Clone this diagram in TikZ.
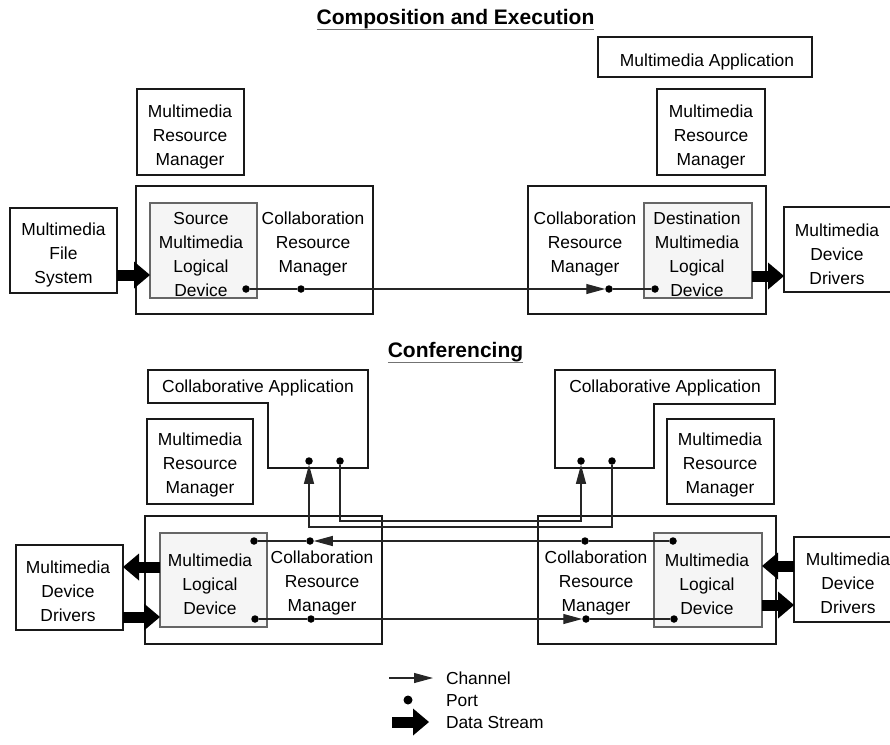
\documentclass[tikz,border=0pt]{standalone}
\usepackage{fontspec}
\setmainfont{Liberation Sans}
\usetikzlibrary{arrows.meta,fit}

\begin{document}
\begin{tikzpicture}[x=1pt,y=-1pt,
  every node/.style={inner sep=0pt, outer sep=0pt},
  txt/.style={align=center, font=\fontsize{17.4}{24}\selectfont},
  lgtxt/.style={anchor=base west, font=\fontsize{17.4}{24}\selectfont},
  heading/.style={anchor=base, font=\fontsize{21}{25}\selectfont\bfseries},
  uline/.style={draw=black!55, line width=1.6pt},
  boxline/.style={draw=black!90, line width=1.4pt},
  box/.style={boxline, fit={#1}},
  devbox/.style={draw=black!60, fill=black!4, line width=1.3pt, fit={#1}},
  port/.style={circle, fill=black, minimum size=7.5pt},
  link/.style={draw=black!85, line width=1.1pt},
  chan/.style={link, -{Triangle[length=19pt,width=10pt]}},
  stream/.style={draw=black, line width=11pt,
    -{Triangle[length=16pt,width=27pt,line width=0pt]}},
]
\useasboundingbox (0,0) rectangle (890,744);

% ---------------- Composition and Execution ----------------
\node[heading] (head1) at (455.5,24) {Composition and Execution};
\draw[uline] ([yshift=-5.5pt]head1.base west) -- ([yshift=-5.5pt]head1.base east);

\node[box={(598,37) (812,77)}] (mapp) {};
\node[txt] (mappT) at (707,62.5) {Multimedia Application};

\node[box={(137,89) (244,175)}] (mrm1) {};
\node[txt] (mrm1T) at (190,137) {Multimedia\\Resource\\Manager};
\node[box={(657,89) (765,175)}] (mrm2) {};
\node[txt] (mrm2T) at (711,137) {Multimedia\\Resource\\Manager};

\node[box={(10,208) (117,293)}] (fs) {};
\node[txt] (fsT) at (63.5,254.5) {Multimedia\\File\\System};

\node[box={(136,186) (373,314)}] (host1) {};
\node[devbox={(150,203) (257,298)}] (sld) {};
\node[txt] (sldT) at (201,255) {Source\\Multimedia\\Logical\\Device};
\node[txt] (crm1T) at (313,243.5) {Collaboration\\Resource\\Manager};

\node[box={(528,186) (766,314)}] (host2) {};
\node[txt] (crm2T) at (585,243.5) {Collaboration\\Resource\\Manager};
\node[devbox={(644,203) (752,298)}] (dld) {};
\node[txt] (dldT) at (697,254.5) {Destination\\Multimedia\\Logical\\Device};

\node[box={(784,207) (894,292)}] (ddr) {};
\node[txt] (ddrT) at (837,254) {Multimedia\\Device\\Drivers};

% ports and channel
\node[port] (pSrc) at (246,289) {};
\node[port] (pCL) at (301,289) {};
\node[port] (pCR) at (609,289) {};
\node[port] (pDst) at (655,289) {};
\draw[link] (pSrc) -- (pCL);
\draw[chan] (pCL) -- (pCR);
\draw[link] (pCR) -- (pDst);

% data streams
\draw[stream] (fs.east |- 0,275) -- (sld.west |- 0,275);
\draw[stream] (dld.east |- 0,276) -- (ddr.west |- 0,276);

% ---------------- Conferencing ----------------
\node[heading] (head2) at (455.5,357) {Conferencing};
\draw[uline] ([yshift=-5.5pt]head2.base west) -- ([yshift=-5.5pt]head2.base east);

% collaborative applications
\draw[boxline] (148,370) -- (368,370) -- (368,468) -- (268,468) -- (268,403) -- (148,403) -- cycle;
\node[txt] (capLT) at (258,388) {Collaborative Application};
\draw[boxline] (555,370) -- (775,370) -- (775,404) -- (654,404) -- (654,468) -- (555,468) -- cycle;
\node[txt] (capRT) at (665,388) {Collaborative Application};

\node[box={(147,419) (253,504)}] (mrm3) {};
\node[txt] (mrm3T) at (200,464.5) {Multimedia\\Resource\\Manager};
\node[box={(667,419) (774,504)}] (mrm4) {};
\node[txt] (mrm4T) at (720,464.5) {Multimedia\\Resource\\Manager};

% hosts
\node[box={(145,516) (382,644)}] (host3) {};
\node[devbox={(160,533) (267,627)}] (lld) {};
\node[txt] (lldT) at (210,584) {Multimedia\\Logical\\Device};
\node[txt] (crm3T) at (322,583) {Collaboration\\Resource\\Manager};

\node[box={(538,516) (776,644)}] (host4) {};
\node[txt] (crm4T) at (596,583) {Collaboration\\Resource\\Manager};
\node[devbox={(654,533) (762,627)}] (rld) {};
\node[txt] (rldT) at (707,584) {Multimedia\\Logical\\Device};

\node[box={(16,545) (123,630)}] (ldr) {};
\node[txt] (ldrT) at (68,591.5) {Multimedia\\Device\\Drivers};
\node[box={(794,537) (905,622)}] (rdr) {};
\node[txt] (rdrT) at (848,583.5) {Multimedia\\Device\\Drivers};

% application ports
\node[port] (aL1) at (309,461) {};
\node[port] (aL2) at (340,461) {};
\node[port] (aR1) at (581,461) {};
\node[port] (aR2) at (612,461) {};

% host ports
\node[port] (qLD1) at (254,541) {};
\node[port] (qLC1) at (310,541) {};
\node[port] (qRC1) at (585,541) {};
\node[port] (qRD1) at (673,541) {};
\node[port] (qLD2) at (255,619) {};
\node[port] (qLC2) at (311,619) {};
\node[port] (qRC2) at (586,619) {};
\node[port] (qRD2) at (674,619) {};

% channels between the applications
\draw[chan] (aL2) -- (aL2 |- 0,521) -| (aR1);
\draw[chan] (aR2) -- (aR2 |- 0,527) -| (aL1);

% channels between the hosts
\draw[link] (qRD1) -- (qRC1);
\draw[chan] (qRC1) -- (qLC1);
\draw[link] (qLC1) -- (qLD1);
\draw[link] (qLD2) -- (qLC2);
\draw[chan] (qLC2) -- (qRC2);
\draw[link] (qRC2) -- (qRD2);

% data streams
\draw[stream] (lld.west |- 0,567) -- (ldr.east |- 0,567);
\draw[stream] (ldr.east |- 0,617) -- (lld.west |- 0,617);
\draw[stream] (rdr.west |- 0,566) -- (rld.east |- 0,566);
\draw[stream] (rld.east |- 0,605) -- (rdr.west |- 0,605);

% ---------------- legend ----------------
\coordinate (lgA) at (389,678);
\coordinate (lgB) at (433,678);
\draw[chan] (lgA) -- (lgB);
\node[lgtxt] (lgChan) at (446,684) {Channel};
\node[port, minimum size=9pt] (lgPort) at (408,700) {};
\node[lgtxt] (lgPortT) at (446,706) {Port};
\coordinate (lgS1) at (392,722);
\coordinate (lgS2) at (429,722);
\draw[stream] (lgS1) -- (lgS2);
\node[lgtxt] (lgStream) at (446,728) {Data Stream};
\end{tikzpicture}
\end{document}
